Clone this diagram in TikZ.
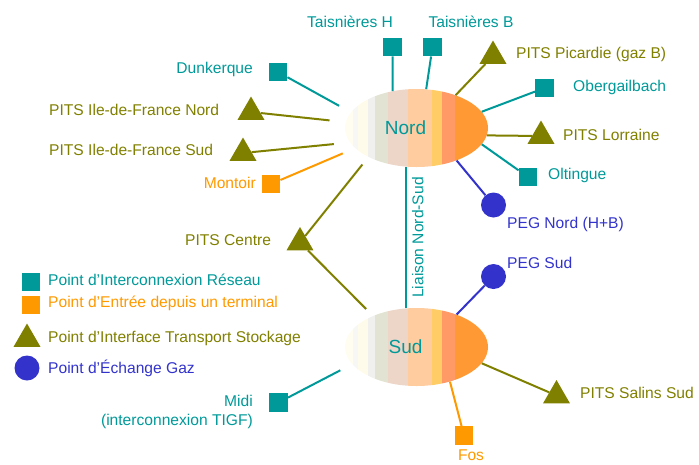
\documentclass[tikz,border=0pt]{standalone}
\usepackage{fontspec}
\setmainfont{Liberation Sans}
\usetikzlibrary{shapes.geometric}

\definecolor{grtaqua}{HTML}{009999}
\definecolor{grtorange}{HTML}{FF9900}
\definecolor{grtolive}{HTML}{808000}
\definecolor{grtblue}{HTML}{3333CC}
\definecolor{band1}{HTML}{FFFDF0}
\definecolor{band2}{HTML}{F7F7F5}
\definecolor{band3}{HTML}{FFFBEA}
\definecolor{band4}{HTML}{F0F0EE}
\definecolor{band5}{HTML}{E3E3D3}
\definecolor{band6}{HTML}{EDD5C7}
\definecolor{band7}{HTML}{FFCC9F}
\definecolor{band8}{HTML}{FFCC66}
\definecolor{band9}{HTML}{FF9966}
\definecolor{band10}{HTML}{FF9933}

\begin{document}
\begin{tikzpicture}[x=1pt, y=-1pt,
    every node/.style={font=\fontsize{15.6}{19}\selectfont},
    site/.style={ellipse, minimum width=143, minimum height=78, inner sep=0},
    halo/.style={ellipse, minimum width=176, minimum height=92, inner sep=0},
    sitetext/.style={text=grtaqua, font=\fontsize{19}{22}\selectfont, xshift=-11},
    interco/.style={rectangle, fill=grtaqua, minimum size=18.5, inner sep=0},
    entree/.style={rectangle, fill=grtorange, minimum size=18.5, inner sep=0},
    pits/.style={regular polygon, regular polygon sides=3, fill=grtolive, minimum size=31, inner sep=0},
    peg/.style={circle, fill=grtblue, minimum size=25, inner sep=0},
    aquatext/.style={text=grtaqua, inner sep=1},
    orangetext/.style={text=grtorange, inner sep=1},
    olivetext/.style={text=grtolive, inner sep=1},
    bluetext/.style={text=grtblue, inner sep=1},
    aqualink/.style={draw=grtaqua, line width=2pt},
    orangelink/.style={draw=grtorange, line width=2pt},
    olivelink/.style={draw=grtolive, line width=2pt},
    bluelink/.style={draw=grtblue, line width=2pt}]
    \useasboundingbox (0,0) rectangle (699,464);

    \foreach \cy in {128,347} {
        \begin{scope}
            \clip (416.5,\cy) ellipse [x radius=71.5, y radius=39];
            \foreach \xa/\xb/\col in {340/353/band1, 353/358/band2, 358/368/band3, 368/375/band4, 375/388/band5,
                                      388/408/band6, 408/432/band7, 432/442/band8, 442/455/band9, 455/495/band10}
                \fill[\col] (\xa,\cy-45) rectangle (\xb,\cy+45);
        \end{scope}
    }

    \node[site, label={[sitetext]center:Nord}] (nord) at (416.5,128) {};
    \node[halo] (nordout) at (416.5,128) {};
    \node[site, label={[sitetext]center:Sud}] (sud) at (416.5,347) {};
    \node[halo] (sudout) at (416.5,347) {};

    \node[interco] (taisH) at (392.5,47) {};
    \node[interco] (taisB) at (432.5,47) {};
    \node[pits] (picardie) at (493,56) {};
    \node[interco] (ober) at (544.5,88) {};
    \node[pits] (lorraine) at (541,136) {};
    \node[interco] (oltingue) at (528,177) {};
    \node[peg] (pegnord) at (493.5,205) {};
    \node[interco] (dunkerque) at (278,72) {};
    \node[pits] (idfnord) at (251,112) {};
    \node[pits] (idfsud) at (243,153) {};
    \node[entree] (montoir) at (271,184) {};
    \node[pits] (centre) at (300,242.5) {};
    \node[peg] (pegsud) at (493.5,276.5) {};
    \node[pits] (salins) at (556.5,395.5) {};
    \node[entree] (fos) at (464,435.5) {};
    \node[interco] (midi) at (278.5,402.5) {};

    \node[aquatext] (taisHtxt) at (350,21.5) {Taisnières H};
    \node[aquatext] (taisBtxt) at (471,21.5) {Taisnières B};
    \node[olivetext, anchor=west] (picardietxt) at (515,54) {PITS Picardie (gaz B)};
    \node[aquatext, anchor=west] (obertxt) at (572,87) {Obergailbach};
    \node[olivetext, anchor=west] (lorrainetxt) at (562,135) {PITS Lorraine};
    \node[aquatext, anchor=west] (oltinguetxt) at (547,175) {Oltingue};
    \node[bluetext, anchor=west] (pegnordtxt) at (506,224) {PEG Nord (H+B)};
    \node[bluetext, anchor=west] (pegsudtxt) at (506,263) {PEG Sud};
    \node[aquatext, anchor=east] (dunkerquetxt) at (254,69) {Dunkerque};
    \node[olivetext, anchor=west] (idfnordtxt) at (48,110) {PITS Ile-de-France Nord};
    \node[olivetext, anchor=west] (idfsudtxt) at (48,150) {PITS Ile-de-France Sud};
    \node[orangetext, anchor=east] (montoirtxt) at (257,183) {Montoir};
    \node[olivetext, anchor=west] (centretxt) at (184,240) {PITS Centre};
    \node[olivetext, anchor=west] (salinstxt) at (579,393) {PITS Salins Sud};
    \node[orangetext] (fostxt) at (471,455) {Fos};
    \node[aquatext, anchor=east, align=right] (miditxt) at (254,411.5) {Midi\\(interconnexion TIGF)};

    \draw[aqualink] (taisH) -- (nord.123);
    \draw[aqualink] (taisB) -- (nord.76);
    \draw[olivelink] (picardie) -- (nord.40);
    \draw[aqualink] (ober) -- (nord.14);
    \draw[olivelink] (lorraine) -- (nord.-6);
    \draw[aqualink] (oltingue) -- (nord.-14.5);
    \draw[bluelink] (pegnord) -- (nord.-39);
    \draw[aqualink] (dunkerque) -- (nordout.164);
    \draw[olivelink] (idfnord) -- (nordout.175.5);
    \draw[olivelink] (idfsud) -- (nordout.191);
    \draw[orangelink] (montoir) -- (nordout.199);
    \draw[olivelink] (centre) -- (nordout.214);
    \draw[olivelink] (centre) -- (sudout.143.6);
    \draw[aqualink] (midi) -- (sudout.197);
    \draw[bluelink] (pegsud) -- (sud.39);
    \draw[olivelink] (salins) -- (sud.-14.5);
    \draw[orangelink] (fos) -- (sud.-46);
    \draw[aqualink] (nord.255) -- node[aquatext, rotate=90, anchor=north, inner sep=5] (liaisontxt) {Liaison Nord-Sud} (sud.105);

    \node[interco] (leginterco) at (31,282) {};
    \node[entree] (legentree) at (31,305) {};
    \node[pits] (legpits) at (27,339) {};
    \node[peg] (legpeg) at (27,368) {};
    \node[aquatext, anchor=west] (legintercotxt) at (47,280) {Point d'Interconnexion Réseau};
    \node[orangetext, anchor=west] (legentreetxt) at (47,303) {Point d'Entrée depuis un terminal};
    \node[olivetext, anchor=west] (legpitstxt) at (47,338) {Point d'Interface Transport Stockage};
    \node[bluetext, anchor=west] (legpegtxt) at (47,368) {Point d'Échange Gaz};
\end{tikzpicture}
\end{document}
